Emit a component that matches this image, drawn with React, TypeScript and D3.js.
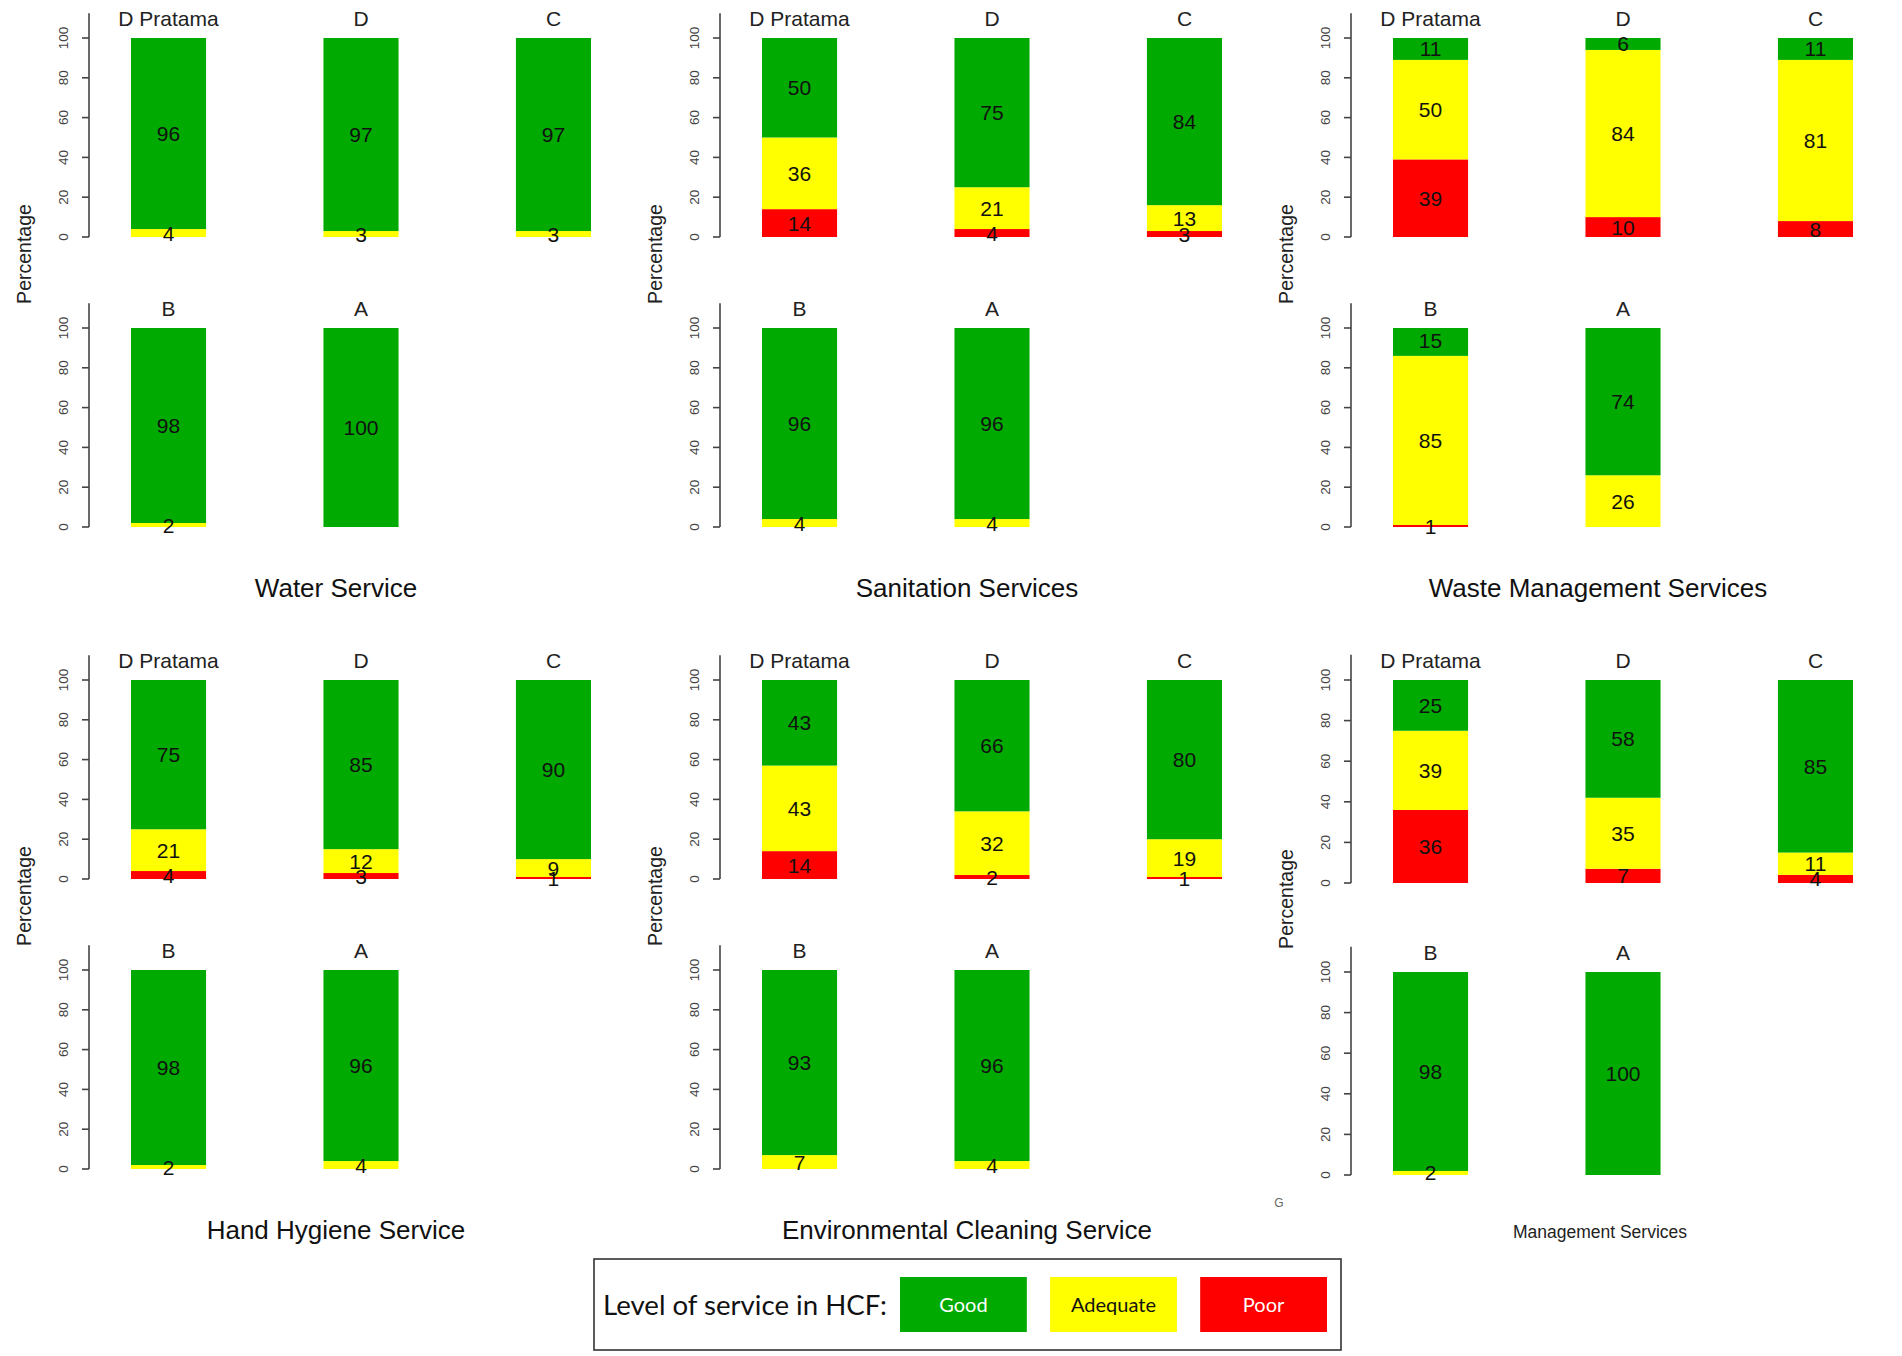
import React from "react";
import * as d3 from "d3";

// ---------- data ----------
const categories = ["D Pratama", "D", "C", "B", "A"];
const levelKeys = ["poor", "adequate", "good"];
const levelNames = ["Poor", "Adequate", "Good"];
const levelColors = ["#FF0000", "#FFFF00", "#00AA00"];
const yTicks = [0, 20, 40, 60, 80, 100];
const legendTitle = "Level of service in HCF:";

const serviceNames = [
  "Water Service",
  "Sanitation Services",
  "Waste Management Services",
  "Hand Hygiene Service",
  "Environmental Cleaning Service",
  "Management Services",
];

const waterGood = [96, 97, 97, 98, 100];
const waterAdequate = [4, 3, 3, 2, 0];
const waterPoor = [0, 0, 0, 0, 0];

const sanitationGood = [50, 75, 84, 96, 96];
const sanitationAdequate = [36, 21, 13, 4, 4];
const sanitationPoor = [14, 4, 3, 0, 0];

const wasteGood = [11, 6, 11, 15, 74];
const wasteAdequate = [50, 84, 81, 85, 26];
const wastePoor = [39, 10, 8, 1, 0];

const hygieneGood = [75, 85, 90, 98, 96];
const hygieneAdequate = [21, 12, 9, 2, 4];
const hygienePoor = [4, 3, 1, 0, 0];

const cleaningGood = [43, 66, 80, 93, 96];
const cleaningAdequate = [43, 32, 19, 7, 4];
const cleaningPoor = [14, 2, 1, 0, 0];

const managementGood = [25, 58, 85, 98, 100];
const managementAdequate = [39, 35, 11, 2, 0];
const managementPoor = [36, 7, 4, 0, 0];

const serviceSeries = [
  [waterGood, waterAdequate, waterPoor],
  [sanitationGood, sanitationAdequate, sanitationPoor],
  [wasteGood, wasteAdequate, wastePoor],
  [hygieneGood, hygieneAdequate, hygienePoor],
  [cleaningGood, cleaningAdequate, cleaningPoor],
  [managementGood, managementAdequate, managementPoor],
];

// ---------- layout ----------
const W = 1902;
const H = 1356;
const COL_DX = 631;
const HALF_DY = 642;
const FONT = "'Liberation Sans', Arial, sans-serif";
const baseRows = [
  { y0: 237, y100: 38 },
  { y0: 527, y100: 328 },
];
const mgmtRows = [
  { y0: 883 - HALF_DY, y100: 680 - HALF_DY },
  { y0: 1175 - HALF_DY, y100: 972 - HALF_DY },
];
const rowCats = [
  [0, 1, 2],
  [3, 4],
];

function Panel({ idx }: { idx: number }) {
  const col = idx % 3;
  const half = Math.floor(idx / 3);
  const dx = col * COL_DX;
  const dy = half * HALF_DY;
  const rows = idx === 5 ? mgmtRows : baseRows;
  const [good, adequate, poor] = serviceSeries[idx];
  const table = categories.map((c, i) => ({
    category: c,
    poor: poor[i],
    adequate: adequate[i],
    good: good[i],
  }));
  const stacked = d3.stack<any>().keys(levelKeys)(table);
  const x = d3
    .scaleBand<string>()
    .domain(["0", "1", "2"])
    .range([131 + dx, 591 + dx])
    .paddingInner(0.61)
    .paddingOuter(0);
  const axisX = 89 + dx;

  return (
    <g>
      {rows.map((row, r) => {
        const y = d3
          .scaleLinear()
          .domain([0, 100])
          .range([row.y0 + dy, row.y100 + dy]);
        const yb = y.copy().clamp(true);
        return (
          <g key={r}>
            <line
              x1={axisX}
              x2={axisX}
              y1={y(0)}
              y2={y(112.5)}
              stroke="#444"
              strokeWidth={1.6}
            />
            {yTicks.map((t) => (
              <g key={t}>
                <line
                  x1={axisX - 7}
                  x2={axisX}
                  y1={y(t)}
                  y2={y(t)}
                  stroke="#444"
                  strokeWidth={1.6}
                />
                <text
                  transform={`translate(${axisX - 26},${y(t)}) rotate(-90)`}
                  textAnchor="middle"
                  dominantBaseline="central"
                  fontSize={13.5}
                  fill="#444"
                  fontFamily={FONT}
                >
                  {t}
                </text>
              </g>
            ))}
            {rowCats[r].map((ci, slot) => {
              const bx = x(String(slot)) as number;
              const bw = x.bandwidth();
              const cx = bx + bw / 2;
              return (
                <g key={ci}>
                  {stacked.map((s, k) => {
                    const d = s[ci];
                    const v = d[1] - d[0];
                    if (v <= 0) return null;
                    return (
                      <rect
                        key={k}
                        x={bx}
                        width={bw}
                        y={yb(d[1])}
                        height={yb(d[0]) - yb(d[1])}
                        fill={levelColors[k]}
                      />
                    );
                  })}
                  {stacked.map((s, k) => {
                    const d = s[ci];
                    const v = d[1] - d[0];
                    if (v <= 0) return null;
                    return (
                      <text
                        key={"t" + k}
                        x={cx}
                        y={yb((d[0] + d[1]) / 2)}
                        textAnchor="middle"
                        dominantBaseline="central"
                        fontSize={21}
                        fill="#111"
                        fontFamily={FONT}
                      >
                        {v}
                      </text>
                    );
                  })}
                  <text
                    x={cx}
                    y={y(100) - 20}
                    textAnchor="middle"
                    dominantBaseline="central"
                    fontSize={21}
                    fill="#222"
                    fontFamily={FONT}
                  >
                    {categories[ci]}
                  </text>
                </g>
              );
            })}
          </g>
        );
      })}
      <text
        transform={`translate(${24 + dx},${(idx === 5 ? 257 : 254) + dy}) rotate(-90)`}
        textAnchor="middle"
        dominantBaseline="central"
        fontSize={19.5}
        fill="#222"
        fontFamily={FONT}
      >
        Percentage
      </text>
      {idx === 5 ? (
        <g>
          <text
            x={336 + dx + 2}
            y={1232}
            textAnchor="middle"
            dominantBaseline="central"
            fontSize={17.5}
            fill="#222"
            fontFamily={FONT}
          >
            {serviceNames[idx]}
          </text>
          <text
            x={1279}
            y={1203}
            textAnchor="middle"
            dominantBaseline="central"
            fontSize={12}
            fill="#666"
            fontFamily={FONT}
          >
            G
          </text>
        </g>
      ) : (
        <text
          x={336 + dx}
          y={588 + dy}
          textAnchor="middle"
          dominantBaseline="central"
          fontSize={26}
          fill="#111"
          fontFamily={FONT}
        >
          {serviceNames[idx]}
        </text>
      )}
    </g>
  );
}

function Legend() {
  const order = [2, 1, 0];
  const sw = d3
    .scaleBand<string>()
    .domain(order.map(String))
    .range([900, 1327])
    .paddingInner(0.155)
    .paddingOuter(0);
  return (
    <g>
      <rect
        x={594}
        y={1259}
        width={747}
        height={91}
        fill="#fff"
        stroke="#333"
        strokeWidth={1.6}
      />
      <text
        x={603}
        y={1304}
        dominantBaseline="central"
        fontSize={27}
        fill="#111"
        fontFamily="Lato, 'Open Sans', sans-serif"
        textLength={284}
        lengthAdjust="spacingAndGlyphs"
      >
        {legendTitle}
      </text>
      {order.map((k) => {
        const bx = sw(String(k)) as number;
        return (
          <g key={k}>
            <rect x={bx} y={1277} width={sw.bandwidth()} height={55} fill={levelColors[k]} />
            <text
              x={bx + sw.bandwidth() / 2}
              y={1304}
              textAnchor="middle"
              dominantBaseline="central"
              fontSize={20}
              fill={k === 1 ? "#111" : "#fff"}
              fontFamily="Lato, 'Open Sans', sans-serif"
            >
              {levelNames[k]}
            </text>
          </g>
        );
      })}
    </g>
  );
}

export default function App() {
  return (
    <div style={{ position: "absolute", left: 0, top: 0 }}>
      <svg width={W} height={H} style={{ display: "block", background: "#fff" }}>
        <rect x={0} y={0} width={W} height={H} fill="#fff" />
        {serviceNames.map((_, i) => (
          <Panel key={i} idx={i} />
        ))}
        <Legend />
      </svg>
    </div>
  );
}
